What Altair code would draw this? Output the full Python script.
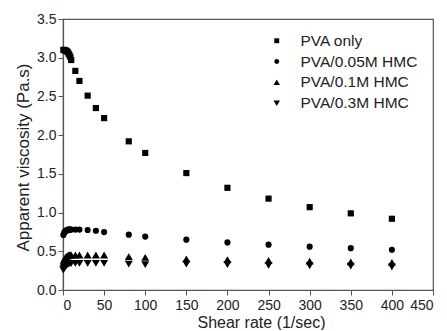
import altair as alt
import pandas as pd

shear = [0.5, 1, 2, 3, 4, 5, 6, 7, 8, 9, 10, 15, 20, 30, 40, 50, 80, 100, 150, 200, 250, 300, 350, 400]
pva_only = [3.10, 3.10, 3.10, 3.09, 3.09, 3.08, 3.07, 3.05, 3.03, 3.01, 2.97, 2.83, 2.70, 2.51, 2.35, 2.22, 1.92, 1.77, 1.51, 1.32, 1.18, 1.07, 0.99, 0.92]
pva_005 = [0.71, 0.73, 0.75, 0.76, 0.77, 0.77, 0.78, 0.78, 0.78, 0.78, 0.78, 0.78, 0.78, 0.775, 0.765, 0.748, 0.715, 0.69, 0.65, 0.615, 0.585, 0.56, 0.54, 0.52]
pva_01 = [0.35, 0.38, 0.40, 0.42, 0.43, 0.44, 0.44, 0.45, 0.45, 0.45, 0.45, 0.45, 0.45, 0.45, 0.45, 0.45, 0.43, 0.42, 0.40, 0.39, 0.38, 0.37, 0.36, 0.355]
pva_03 = [0.26, 0.28, 0.30, 0.31, 0.32, 0.33, 0.335, 0.34, 0.345, 0.345, 0.345, 0.345, 0.345, 0.345, 0.345, 0.345, 0.335, 0.33, 0.335, 0.33, 0.32, 0.315, 0.31, 0.30]

series = ["PVA only", "PVA/0.05M HMC", "PVA/0.1M HMC", "PVA/0.3M HMC"]
shapes = ["square", "circle",
          "M0,-1.15L1.3,1.05L-1.3,1.05Z",
          "M0,1.15L1.3,-1.05L-1.3,-1.05Z"]

rows = []
for name, vals in zip(series, [pva_only, pva_005, pva_01, pva_03]):
    for x, y in zip(shear, vals):
        rows.append({"shear": x, "visc": y, "sample": name})
df = pd.DataFrame(rows)

FONT = "Liberation Sans"

chart = alt.Chart(df).mark_point(filled=True, opacity=1, color="black", size=38).encode(
    x=alt.X("shear:Q", title="Shear rate (1/sec)",
            scale=alt.Scale(domain=[0, 450], nice=False, zero=False),
            axis=alt.Axis(values=list(range(0, 451, 50)), format="d", grid=False, titleX=198)),
    y=alt.Y("visc:Q", title="Apparent viscosity (Pa.s)",
            scale=alt.Scale(domain=[0, 3.5], nice=False),
            axis=alt.Axis(values=[0, 0.5, 1, 1.5, 2, 2.5, 3, 3.5], format=".1f", grid=False, titleY=138)),
    shape=alt.Shape("sample:N", sort=series,
                    scale=alt.Scale(domain=series, range=shapes),
                    legend=alt.Legend(title=None, orient="none", legendX=206, legendY=14,
                                      symbolSize=24, symbolFillColor="black", symbolStrokeColor="black",
                                      symbolStrokeWidth=0,
                                      labelFontSize=15.5, labelFont=FONT, labelColor="#222",
                                      labelOffset=16, rowPadding=3.8, padding=0)),
).properties(
    width=370, height=271,
    padding={"left": 55, "top": 11, "right": 6, "bottom": 40},
    autosize=alt.AutoSizeParams(type="none"),
).configure_view(
    stroke="#555", strokeWidth=1.2
).configure_axis(
    domainColor="#555", tickColor="#555", tickSize=5, domainWidth=1.2,
    labelFont=FONT, labelFontSize=14, labelColor="#222",
    titleFont=FONT, titleColor="#222", titleFontWeight="normal"
).configure_axisY(
    titlePadding=4, titleFontSize=17, labelPadding=2
).configure_axisX(
    titlePadding=2, titleFontSize=16, labelPadding=3
)

chart.save("out.html", embed_options={"renderer": "svg", "actions": False})
